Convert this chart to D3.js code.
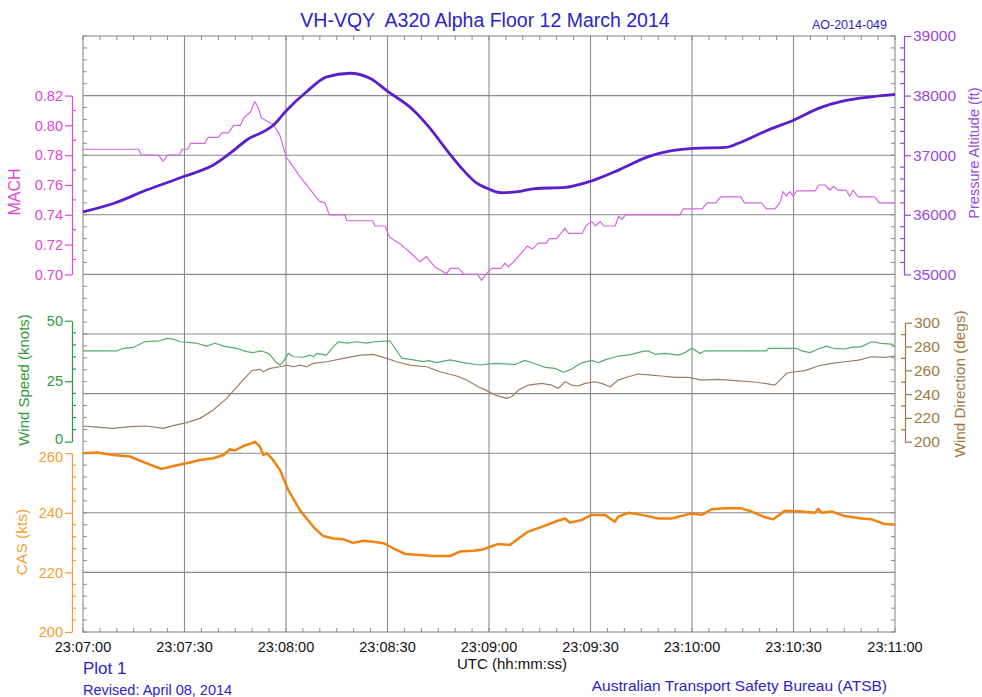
<!DOCTYPE html>
<html>
<head>
<meta charset="utf-8">
<script src="https://cdn.jsdelivr.net/npm/d3@7"></script>
<style>
  body { margin: 0; background: #fff; }
  svg { display: block; font-family: Arial, "Liberation Sans", sans-serif; }
</style>
</head>
<body>
<svg id="chart" width="982" height="697"></svg>
<script>
// seconds after 23:07:00 -> value
const ALT = [[0,36050],[9,36190],[18.8,36415],[30.2,36650],[38.5,36835],[43.4,37030],[48.4,37255],[56.3,37505],
  [60.2,37755],[66.1,38065],[72,38315],[78.9,38375],[84.8,38290],[90.2,38065],[97.6,37760],[102.6,37450],
  [107.5,37085],[112.4,36750],[116.4,36530],[118.8,36460],[121.8,36390],[123.7,36370],[128.7,36390],
  [133.6,36440],[142.5,36460],[150.4,36570],[158.3,36750],[167.1,36975],[174,37075],[180.4,37115],
  [189.8,37130],[193.7,37200],[202.6,37425],[210.5,37600],[217.4,37785],[225.2,37915],[233.1,37980],[240,38020]];

const MACH = [[0,0.784],[16.4,0.784],[17.3,0.78],[22.3,0.78],[23.7,0.776],[25,0.78],[28.5,0.78],[29.3,0.784],
  [31,0.784],[31.8,0.788],[36,0.788],[37,0.792],[40,0.792],[41,0.795],[43,0.795],[44.5,0.80],[46.5,0.80],
  [47.5,0.805],[48.5,0.807],[49.5,0.809],[50.8,0.816],[51.8,0.812],[52.7,0.805],[56.1,0.801],[58.1,0.794],
  [60.2,0.778],[61,0.776],[64,0.766],[69.9,0.749],[71.5,0.748],[72.8,0.74],[77.4,0.74],[78,0.736],[85.6,0.736],
  [86.3,0.7325],[89.3,0.7325],[90.6,0.725],[94,0.72],[97,0.714],[99.6,0.7085],[101.5,0.712],[104,0.705],
  [107.5,0.7005],[108.5,0.704],[111,0.704],[112.6,0.70],[116.6,0.70],[117.8,0.696],[119,0.70],[120.8,0.704],
  [123.5,0.704],[124.7,0.7075],[125.8,0.705],[128.7,0.712],[131.3,0.719],[132.8,0.717],[134.5,0.721],
  [137,0.721],[137.8,0.724],[140,0.724],[142.5,0.731],[143.5,0.7275],[147.5,0.7275],[148.8,0.733],
  [150.4,0.7355],[151.4,0.7325],[152.9,0.7355],[153.9,0.7325],[157.3,0.7325],[158.3,0.739],[159.3,0.737],
  [160.3,0.74],[176.5,0.74],[177.4,0.744],[183,0.744],[184.5,0.748],[187,0.748],[188.5,0.752],[194.5,0.752],
  [195.5,0.748],[200.5,0.748],[202,0.744],[204.5,0.744],[206,0.748],[206.9,0.7555],[207.9,0.7525],
  [208.9,0.7555],[209.9,0.7525],[210.9,0.756],[216.4,0.756],[217.4,0.76],[219.3,0.76],[220.8,0.7565],
  [221.8,0.759],[223.2,0.7565],[225.6,0.7565],[226.6,0.7525],[227.6,0.7565],[229.1,0.752],[234,0.752],
  [235.4,0.748],[240,0.748]];

const WIND_SPD = [[0,37.5],[10,37.5],[11.9,38.6],[14.9,39],[18.3,41.3],[22.8,41.7],[24.7,42.7],[26.7,42.4],
  [28.7,41.3],[33.6,40.7],[36.5,39.5],[39,40.7],[41.5,39.5],[45.4,38.6],[48.4,37.2],[50.3,36.8],[52.8,37.5],
  [54.8,36.5],[55.8,35.1],[57.2,32.7],[58.2,31.7],[59.2,33.1],[60.7,36.5],[62.2,35.1],[65.1,34.9],[67.1,35.8],
  [68.1,35.1],[69.1,36.5],[72,35.8],[74,39.3],[75.5,41.3],[78,40.7],[80.9,41.3],[83.8,40.7],[86.3,41.3],
  [90.7,41.7],[92.2,38.6],[94.2,34.5],[97.6,33.8],[100.6,33.1],[102.1,33.5],[104.5,32.7],[108.5,33.8],
  [112.4,32.7],[117.3,31.7],[121.8,32.4],[127.7,31.9],[130.6,33.6],[133.6,32.2],[136.6,30.7],[139.5,30.3],
  [142,28.7],[144.4,30],[147.4,32.6],[150.3,33.6],[152.3,32.6],[154.3,33.8],[158.2,35.4],[162.2,36.1],
  [165.1,37.2],[167.1,37.5],[169.1,36.1],[172,36.5],[176,35.8],[177.9,36.8],[179.9,38.6],[182.4,36.5],
  [183.8,37.5],[202.1,37.5],[202.6,38.6],[210.9,38.6],[212.4,37.5],[214.9,36.8],[217.3,38.3],[219.8,39.5],
  [221.8,38.6],[225.2,38.3],[227.2,39],[230.1,39.3],[233.1,41.3],[236.1,40.6],[239,40.3],[240,39.5]];

const WIND_DIR = [[0,213.2],[5,212.1],[9,211.2],[13.9,212.6],[18.8,213.2],[23.7,211.2],[26.7,213.5],[30.6,216],
  [34.6,219.6],[38.5,226.6],[42.5,236.4],[46.4,249],[49.9,259.7],[52.3,260.8],[53.3,258.8],[55.3,261.6],
  [58.2,263],[60.2,264.4],[62.2,263],[64.1,264.4],[66.1,263],[68.1,265.8],[72,267.2],[77,270],[81.9,272.8],
  [85.8,273.4],[88.8,270.9],[92.7,267.2],[96.6,264.4],[101.6,263],[105.5,258.8],[110.4,255.2],[113.4,251.8],
  [116.8,246.2],[119.3,242.9],[121.8,239.2],[125.2,236.4],[126.7,237.8],[128.7,243.4],[131.6,247.6],
  [135.6,249],[138.5,247.6],[140.5,244.8],[142.5,250.4],[144.4,247.6],[146.4,246.8],[148.4,249],[151.3,250.4],
  [153.3,249],[155.8,246.2],[158.2,251.8],[161.2,254.6],[164.1,256.9],[168.1,256],[171,255.2],[175,254.1],
  [178.9,254.1],[182.9,251.8],[187.8,252.4],[192.7,251.3],[197.6,250.4],[201.6,249],[204.5,247.6],[206,251.8],
  [208,257.5],[210.4,258.8],[213.4,259.7],[217.3,263.6],[221.3,265.8],[225.2,267.2],[229.2,268.6],
  [233.1,271.4],[237,270.9],[240,272]];

const CAS = [[0,260],[4,260.2],[9,259.4],[13.9,258.9],[18.8,256.6],[23.2,254.7],[26.7,255.7],[30.6,256.6],
  [34.6,257.7],[38.5,258.3],[41.5,259.4],[43.4,261.3],[44.9,260.9],[47.4,262.4],[49.9,263.4],[50.8,263.9],
  [52.3,262.2],[53.3,259.4],[54.3,260],[55.8,258.3],[58.2,254.4],[60.7,247.6],[64.1,240.9],[68.1,235.3],
  [71,232.2],[74,231.4],[77,231.1],[79.9,229.9],[82.9,230.6],[85.8,230.3],[88.8,229.8],[91.7,228.1],
  [95.2,226.2],[99.6,225.8],[103.5,225.5],[108.5,225.5],[111.4,227],[115.4,227.3],[118.3,227.7],[121.8,229.2],
  [122.8,229.5],[126.2,229.2],[128.7,231.4],[131.6,233.7],[135.6,235.3],[139.5,237],[142.5,238.1],
  [143.9,236.7],[147.4,237.6],[150.3,239.3],[154.3,239.3],[157.2,237],[158.2,238.7],[161.2,240],
  [165.1,239.3],[170.1,238.1],[174,238.1],[179.9,239.8],[182.9,239.3],[185.8,241.2],[189.8,241.5],
  [194.7,241.5],[197.6,240.4],[201.6,238.5],[204,237.8],[207.5,240.7],[212.4,240.4],[216.4,240],
  [217.3,241.3],[218.3,240],[221.3,240.4],[225.2,238.9],[230.1,238.1],[233.1,237.8],[237,236.2],[240,236.1]];

const X_TICKS = [0, 30, 60, 90, 120, 150, 180, 210, 240];
const MACH_TICKS = [0.70, 0.72, 0.74, 0.76, 0.78, 0.80, 0.82];
const ALT_TICKS = [35000, 36000, 37000, 38000, 39000];
const WS_TICKS = [0, 25, 50];
const WD_TICKS = [200, 220, 240, 260, 280, 300];
const CAS_TICKS = [200, 220, 240, 260];

const FONT = 'Arial, "Liberation Sans", sans-serif';
const BLUE = "#2c24c8";

// plot frame
const L = 83, R = 895, T = 36, B = 632;
const ROWS = 10;
const rowH = (B - T) / ROWS;

const svg = d3.select("#chart");

const x = d3.scaleLinear().domain([0, 240]).range([L, R]);
const yMach = d3.scaleLinear().domain([0.70, 0.82]).range([T + 4 * rowH, T + rowH]);
const yAlt = d3.scaleLinear().domain([35000, 39000]).range([T + 4 * rowH, T]);
const yWs = d3.scaleLinear().domain([0, 50]).range([441.7, 320.7]);
const yWd = d3.scaleLinear().domain([200, 300]).range([441.7, 322.7]);
const yCas = d3.scaleLinear().domain([200, 260]).range([B, T + 7 * rowH]);

const pad = d3.format("02d");
function clock(s) {
    const tot = 23 * 3600 + 7 * 60 + s;
    return `${pad(Math.floor(tot / 3600))}:${pad(Math.floor(tot / 60) % 60)}:${pad(tot % 60)}`;
}

// grid
const grid = svg.append("g").attr("stroke", "#8a8a8a").attr("stroke-width", 1.1);
d3.range(1, ROWS).forEach(i => {
    grid.append("line").attr("x1", L).attr("x2", R)
        .attr("y1", T + i * rowH).attr("y2", T + i * rowH);
});
X_TICKS.slice(1, -1).forEach(t => {
    grid.append("line").attr("x1", x(t)).attr("x2", x(t)).attr("y1", T).attr("y2", B);
});
svg.append("rect").attr("x", L).attr("y", T).attr("width", R - L).attr("height", B - T)
    .attr("fill", "none").attr("stroke", "#8a8a8a").attr("stroke-width", 1.1);

// small frame ticks
const fticks = svg.append("g").attr("stroke", "#8a8a8a").attr("stroke-width", 1);
d3.range(0, 241, 5).forEach(t => {
    fticks.append("line").attr("x1", x(t)).attr("x2", x(t)).attr("y1", T).attr("y2", T + 4);
    fticks.append("line").attr("x1", x(t)).attr("x2", x(t)).attr("y1", B).attr("y2", B - 4);
});
d3.range(0, ROWS * 5 + 1).forEach(i => {
    const yy = T + i * rowH / 5;
    fticks.append("line").attr("x1", L).attr("x2", L + 4).attr("y1", yy).attr("y2", yy);
    fticks.append("line").attr("x1", R).attr("x2", R - 4).attr("y1", yy).attr("y2", yy);
});

// x axis labels
svg.append("g").selectAll("text").data(X_TICKS).join("text")
    .attr("x", d => x(d)).attr("y", 652)
    .attr("text-anchor", "middle").attr("font-size", "14.5px").attr("fill", "#111")
    .text(d => clock(d));

// value axes: spine + major ticks outward + minor ticks inward
function vAxis(scale, xPos, side, ticks, minorStep, fmt, color, fs) {
    const g = svg.append("g").attr("transform", `translate(${xPos},0)`);
    const [d0, d1] = scale.domain();
    const gen = side === "left" ? d3.axisLeft(scale) : d3.axisRight(scale);
    g.call(gen.tickValues(ticks).tickSize(7).tickSizeOuter(0).tickPadding(2).tickFormat(fmt));
    const minors = d3.range(d0, d1 + minorStep / 2, minorStep).filter(v => !ticks.some(t => Math.abs(t - v) < minorStep / 10));
    g.selectAll(".minor").data(minors).join("line").attr("class", "minor")
        .attr("x1", 0).attr("x2", side === "left" ? 4 : -4)
        .attr("y1", d => scale(d)).attr("y2", d => scale(d));
    g.selectAll("path, line").attr("stroke", color).attr("stroke-width", 1.2);
    g.selectAll("text").attr("fill", color).attr("font-size", fs).attr("font-family", FONT);
    return g;
}

vAxis(yMach, 72, "left", MACH_TICKS, 0.01, d3.format(".2f"), "#e046d8", "14.5px");
const wsAxis = vAxis(yWs, 72, "left", WS_TICKS, 5, d3.format("d"), "#2f9a3a", "14.5px");
const casAxis = vAxis(yCas, 72, "left", CAS_TICKS, 4, d3.format("d"), "#f0a030", "14.5px");
vAxis(yAlt, 904, "right", ALT_TICKS, 200, d3.format("d"), "#9a48dc", "15.5px");
vAxis(yWd, 905, "right", WD_TICKS, 10, d3.format("d"), "#a07840", "15.5px");

// the "0" and "260" labels sit almost on top of each other, pull them apart a little
wsAxis.selectAll(".tick text").filter(d => d === 0).attr("dy", "0.12em");
casAxis.selectAll(".tick text").filter(d => d === 260).attr("dy", "0.55em");

// axis titles
function vTitle(cx, cy, txt, color, fs) {
    svg.append("text").attr("transform", `translate(${cx},${cy}) rotate(-90)`)
        .attr("text-anchor", "middle").attr("dominant-baseline", "middle")
        .attr("font-size", fs).attr("fill", color).text(txt);
}
vTitle(16, 192, "MACH", "#e046d8", "16px");
vTitle(25, 380, "Wind Speed (knots)", "#2f9a3a", "15px");
vTitle(23, 542, "CAS (kts)", "#f0a030", "15.5px");
vTitle(975, 153, "Pressure Altitude (ft)", "#9a48dc", "14.5px");
vTitle(961, 384, "Wind Direction (degs)", "#a07840", "15.3px");

// series
function draw(data, yScale, color, width, curve) {
    svg.append("path").datum(data)
        .attr("fill", "none").attr("stroke", color).attr("stroke-width", width)
        .attr("stroke-linejoin", "round")
        .attr("d", d3.line().x(d => x(d[0])).y(d => yScale(d[1])).curve(curve || d3.curveLinear));
}
draw(MACH, yMach, "#d865e2", 1.2);
draw(ALT, yAlt, "#5a1fcc", 2.8, d3.curveMonotoneX);
draw(WIND_SPD, yWs, "#55ad66", 1.2);
draw(WIND_DIR, yWd, "#9e7c5e", 1.2);
draw(CAS, yCas, "#f0820f", 2.5);

// titles and footer
svg.append("text").attr("x", 485).attr("y", 27).attr("text-anchor", "middle")
    .attr("font-size", "19.5px").attr("fill", BLUE).attr("xml:space", "preserve")
    .text("VH-VQY  A320 Alpha Floor 12 March 2014");
svg.append("text").attr("x", 887).attr("y", 29).attr("text-anchor", "end")
    .attr("font-size", "12.5px").attr("fill", BLUE).text("AO-2014-049");
svg.append("text").attr("x", 512).attr("y", 669).attr("text-anchor", "middle")
    .attr("font-size", "15px").attr("fill", "#111").text("UTC (hh:mm:ss)");
svg.append("text").attr("x", 83).attr("y", 674)
    .attr("font-size", "17px").attr("fill", BLUE).text("Plot 1");
svg.append("text").attr("x", 83).attr("y", 695)
    .attr("font-size", "14.5px").attr("fill", BLUE).text("Revised: April 08, 2014");
svg.append("text").attr("x", 887).attr("y", 691).attr("text-anchor", "end")
    .attr("font-size", "15.5px").attr("fill", BLUE).text("Australian Transport Safety Bureau (ATSB)");
</script>
</body>
</html>
